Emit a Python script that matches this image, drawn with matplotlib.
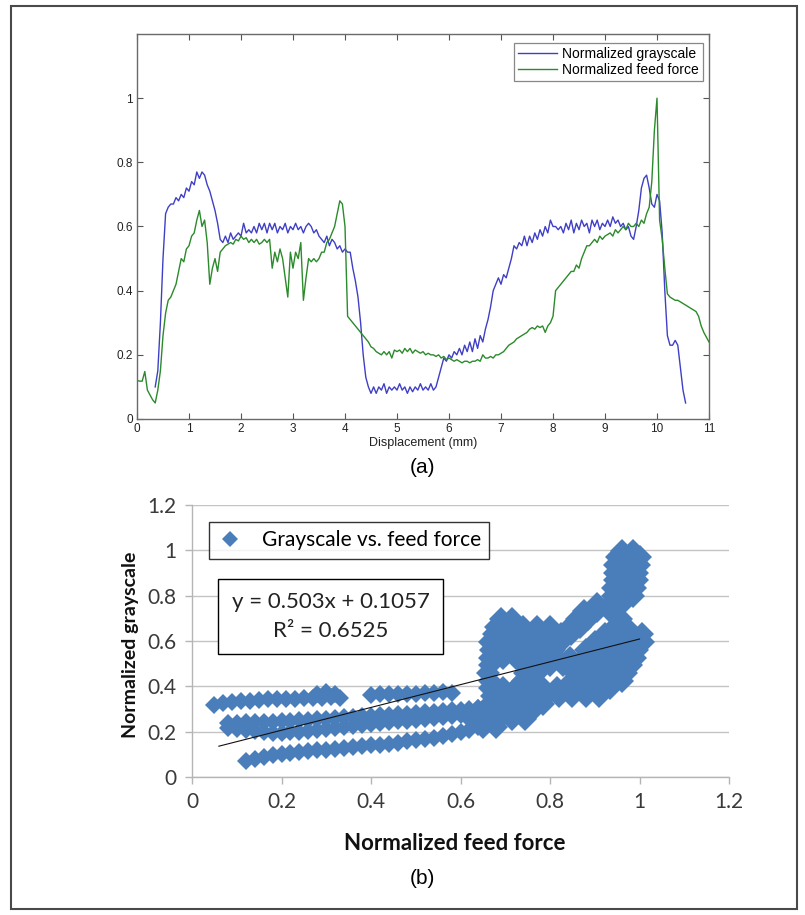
import matplotlib
matplotlib.use("Agg")
import matplotlib.pyplot as plt
import numpy as np
from matplotlib.patches import Rectangle
from matplotlib.lines import Line2D

# ---------------- data: panel (a) ----------------
force_start, force_step = 0.0, 0.05
feed_force = [
    0.12, 0.118, 0.118, 0.148, 0.09, 0.075, 0.06, 0.05, 0.09, 0.15,
    0.26, 0.33, 0.37, 0.38, 0.40, 0.42, 0.46, 0.50, 0.49, 0.53,
    0.54, 0.57, 0.58, 0.62, 0.65, 0.60, 0.62, 0.55, 0.42, 0.47,
    0.50, 0.46, 0.52, 0.53, 0.54, 0.545, 0.55, 0.545, 0.56, 0.555,
    0.57, 0.56, 0.565, 0.55, 0.56, 0.55, 0.56, 0.545, 0.55, 0.56,
    0.55, 0.56, 0.47, 0.52, 0.49, 0.53, 0.50, 0.44, 0.38, 0.52,
    0.47, 0.52, 0.50, 0.55, 0.37, 0.44, 0.50, 0.49, 0.50, 0.49,
    0.50, 0.52, 0.52, 0.55, 0.56, 0.58, 0.60, 0.64, 0.68, 0.67,
    0.60, 0.32, 0.31, 0.30, 0.29, 0.28, 0.27, 0.26, 0.25, 0.24,
    0.225, 0.22, 0.21, 0.205, 0.20, 0.21, 0.20, 0.21, 0.19, 0.215,
    0.21, 0.215, 0.205, 0.22, 0.21, 0.22, 0.205, 0.215, 0.21, 0.205,
    0.21, 0.20, 0.205, 0.20, 0.20, 0.195, 0.20, 0.19, 0.195, 0.185,
    0.19, 0.185, 0.18, 0.185, 0.18, 0.175, 0.18, 0.18, 0.175, 0.18,
    0.18, 0.185, 0.18, 0.20, 0.19, 0.19, 0.195, 0.19, 0.20, 0.20,
    0.205, 0.21, 0.22, 0.23, 0.235, 0.24, 0.25, 0.255, 0.26, 0.265,
    0.27, 0.28, 0.285, 0.28, 0.29, 0.285, 0.29, 0.27, 0.29, 0.30,
    0.32, 0.40, 0.41, 0.42, 0.43, 0.44, 0.45, 0.46, 0.46, 0.48,
    0.47, 0.50, 0.52, 0.54, 0.54, 0.55, 0.56, 0.55, 0.57, 0.56,
    0.57, 0.575, 0.58, 0.57, 0.59, 0.58, 0.59, 0.60, 0.59, 0.61,
    0.60, 0.60, 0.61, 0.60, 0.62, 0.61, 0.64, 0.66, 0.74, 0.90,
    1.00, 0.62, 0.56, 0.47, 0.39, 0.38, 0.375, 0.37, 0.37, 0.365,
    0.36, 0.355, 0.35, 0.345, 0.34, 0.335, 0.32, 0.29, 0.27, 0.255,
    0.24,
]

gray_start, gray_step = 0.35, 0.05
grayscale = [
    0.10, 0.15, 0.30, 0.50, 0.64, 0.66, 0.67, 0.67, 0.69, 0.68,
    0.70, 0.69, 0.72, 0.71, 0.74, 0.73, 0.77, 0.75, 0.77, 0.76,
    0.73, 0.71, 0.68, 0.65, 0.61, 0.56, 0.55, 0.57, 0.55, 0.58,
    0.56, 0.57, 0.58, 0.57, 0.61, 0.58, 0.59, 0.58, 0.60, 0.58,
    0.61, 0.59, 0.61, 0.58, 0.61, 0.59, 0.61, 0.58, 0.60, 0.59,
    0.61, 0.58, 0.60, 0.59, 0.61, 0.59, 0.60, 0.58, 0.60, 0.61,
    0.60, 0.58, 0.59, 0.57, 0.56, 0.55, 0.57, 0.54, 0.56, 0.55,
    0.53, 0.54, 0.52, 0.53, 0.52, 0.52, 0.47, 0.43, 0.38, 0.30,
    0.20, 0.13, 0.10, 0.08, 0.10, 0.08, 0.10, 0.09, 0.11, 0.08,
    0.10, 0.09, 0.10, 0.09, 0.11, 0.09, 0.10, 0.08, 0.10, 0.085,
    0.10, 0.09, 0.11, 0.09, 0.10, 0.09, 0.11, 0.09, 0.10, 0.13,
    0.16, 0.19, 0.18, 0.20, 0.19, 0.21, 0.20, 0.22, 0.20, 0.23,
    0.21, 0.24, 0.21, 0.25, 0.22, 0.26, 0.24, 0.28, 0.31, 0.35,
    0.40, 0.42, 0.44, 0.42, 0.45, 0.44, 0.47, 0.50, 0.54, 0.53,
    0.55, 0.54, 0.57, 0.54, 0.57, 0.55, 0.58, 0.56, 0.59, 0.57,
    0.60, 0.58, 0.62, 0.60, 0.60, 0.59, 0.60, 0.58, 0.61, 0.59,
    0.62, 0.58, 0.61, 0.59, 0.62, 0.60, 0.61, 0.58, 0.62, 0.60,
    0.62, 0.59, 0.61, 0.60, 0.62, 0.60, 0.63, 0.61, 0.62, 0.60,
    0.61, 0.59, 0.60, 0.57, 0.56, 0.60, 0.65, 0.72, 0.75, 0.76,
    0.72, 0.67, 0.66, 0.70, 0.68, 0.58, 0.40, 0.26, 0.23, 0.23,
    0.245, 0.23, 0.16, 0.09, 0.05,
]

disp_force = np.round(force_start + force_step * np.arange(len(feed_force)), 2)
disp_gray = np.round(gray_start + gray_step * np.arange(len(grayscale)), 2)

# ---------------- data: panel (b) ----------------
band_a_x = [0.05, 0.07, 0.09, 0.11, 0.13, 0.15, 0.17, 0.19, 0.21, 0.23, 0.25, 0.27, 0.29, 0.31, 0.33, 0.28, 0.30, 0.32]
band_a_y = [0.318, 0.327, 0.332, 0.335, 0.337, 0.34, 0.342, 0.343, 0.344, 0.346, 0.347, 0.349, 0.35, 0.352, 0.35, 0.368, 0.374, 0.365]

band_b_x = [0.40, 0.42, 0.44, 0.46, 0.48, 0.50, 0.52, 0.54, 0.56, 0.58]
band_b_y = [0.362, 0.365, 0.366, 0.367, 0.368, 0.368, 0.37, 0.372, 0.374, 0.372]

band_c_x = [0.08, 0.10, 0.12, 0.14, 0.16, 0.18, 0.20, 0.22, 0.24, 0.26, 0.28, 0.30, 0.32, 0.34, 0.36,
            0.38, 0.40, 0.42, 0.44, 0.46, 0.48, 0.50, 0.52, 0.54, 0.56, 0.58, 0.60, 0.62, 0.64]
band_c_upper_y = [0.24, 0.24, 0.241, 0.242, 0.243, 0.244, 0.245, 0.247, 0.25, 0.252, 0.255, 0.257, 0.26, 0.263, 0.266,
                  0.268, 0.27, 0.272, 0.275, 0.277, 0.28, 0.282, 0.285, 0.288, 0.291, 0.294, 0.297, 0.30, 0.304]
band_c_lower_y = [0.214, 0.21, 0.206, 0.202, 0.198, 0.195, 0.194, 0.197, 0.2, 0.204, 0.208, 0.212, 0.217, 0.222, 0.226,
                  0.23, 0.234, 0.237, 0.241, 0.245, 0.249, 0.253, 0.257, 0.261, 0.265, 0.269, 0.274, 0.279, 0.287]

band_d_x = [0.12, 0.14, 0.16, 0.18, 0.20, 0.22, 0.24, 0.26, 0.28, 0.30, 0.32, 0.34, 0.36, 0.38,
            0.40, 0.42, 0.44, 0.46, 0.48, 0.50, 0.52, 0.54, 0.56, 0.58, 0.60, 0.62, 0.64]
band_d_y = [0.072, 0.08, 0.088, 0.095, 0.1, 0.106, 0.11, 0.114, 0.118, 0.121, 0.125, 0.128, 0.131, 0.135,
            0.139, 0.143, 0.147, 0.152, 0.157, 0.162, 0.167, 0.173, 0.18, 0.188, 0.197, 0.207, 0.22]

# dense cluster (feed force > 0.6), listed row by row: (grayscale, [feed force values])
cluster_rows = [
    (0.221, [0.65, 0.68]),
    (0.255, [0.625, 0.655, 0.685, 0.715, 0.745]),
    (0.289, [0.64, 0.67, 0.70, 0.73, 0.76]),
    (0.323, [0.665, 0.695, 0.725, 0.755, 0.785]),
    (0.357, [0.67, 0.70, 0.73, 0.76, 0.79, 0.82, 0.85, 0.88, 0.91]),
    (0.391, [0.665, 0.695, 0.725, 0.755, 0.785, 0.815, 0.845, 0.875, 0.905, 0.935]),
    (0.425, [0.665, 0.74, 0.765, 0.85, 0.875, 0.905, 0.935, 0.96]),
    (0.459, [0.662, 0.745, 0.77, 0.855, 0.88, 0.91, 0.94, 0.97]),
    (0.493, [0.665, 0.745, 0.77, 0.80, 0.83, 0.86, 0.89, 0.92, 0.95, 0.98]),
    (0.527, [0.665, 0.695, 0.725, 0.755, 0.785, 0.815, 0.845, 0.875, 0.905, 0.935, 0.965, 0.99]),
    (0.561, [0.668, 0.70, 0.73, 0.76, 0.79, 0.81, 0.88, 0.905, 0.935, 0.965, 0.995]),
    (0.595, [0.665, 0.695, 0.725, 0.755, 0.785, 0.825, 0.90, 0.925, 0.955, 0.985, 1.008]),
    (0.629, [0.675, 0.705, 0.735, 0.765, 0.795, 0.825, 0.848, 0.922, 0.948, 0.978, 1.005]),
    (0.663, [0.68, 0.71, 0.74, 0.77, 0.80, 0.845, 0.868, 0.945, 0.97]),
    (0.697, [0.69, 0.715, 0.86, 0.885, 0.958]),
    (0.731, [0.875, 0.905, 0.935]),
    (0.765, [0.905, 0.935, 0.96]),
    (0.799, [0.94, 0.965, 0.985]),
    (0.833, [0.94, 0.965, 0.99]),
    (0.867, [0.945, 0.97, 0.995]),
    (0.901, [0.945, 0.97, 0.995]),
    (0.935, [0.945, 0.97, 0.998]),
    (0.969, [0.95, 0.975, 1.0]),
    (0.995, [0.96, 0.985]),
]

trend_slope = 0.503
trend_intercept = 0.1057
trend_x = [0.06, 1.0]

# ---------------- figure ----------------
W, H = 805, 915
fig = plt.figure(figsize=(W / 100, H / 100), dpi=100)

def fx(px):
    return px / W

def fy(py):
    return 1 - py / H

# outer frame
fig.patches.append(Rectangle((fx(11), fy(909)), (797 - 11) / W, (909 - 6) / H,
                             transform=fig.transFigure, fill=False,
                             edgecolor="#4a4a4a", lw=1.5))

# ---- panel (a)
arial = "Liberation Sans"
ax1 = fig.add_axes([fx(137), fy(419), (709 - 137) / W, (419 - 34) / H])
ax1.plot(disp_gray, grayscale, color="#3f3fc6", lw=1.0, label="Normalized grayscale")
ax1.plot(disp_force, feed_force, color="#2b8a2b", lw=1.0, label="Normalized feed force")
ax1.set_xlim(0, 11)
ax1.set_ylim(0, 1.2)
ax1.set_xticks(range(12))
ax1.set_xticklabels([str(i) for i in range(12)], fontfamily=arial, fontsize=8.5)
ax1.set_yticks([0, 0.2, 0.4, 0.6, 0.8, 1.0])
ax1.set_yticklabels(["0", "0.2", "0.4", "0.6", "0.8", "1"], fontfamily=arial, fontsize=8.5)
ax1.tick_params(direction="in", top=True, right=True, length=4, width=0.8,
                color="#555555", labelcolor="#222222", pad=3)
for s in ax1.spines.values():
    s.set_color("#6a6a6a")
    s.set_linewidth(1.0)
ax1.set_xlabel("Displacement (mm)", fontfamily=arial, fontsize=9, labelpad=1, color="#222222")
leg1 = ax1.legend(loc="upper right", bbox_to_anchor=(0.99, 0.977), borderaxespad=0,
                  prop={"family": arial, "size": 10}, frameon=True, fancybox=False,
                  edgecolor="#6a6a6a", handlelength=2.8, handletextpad=0.4,
                  borderpad=0.3, labelspacing=0.15)
leg1.get_frame().set_linewidth(0.9)

fig.text(fx(422), fy(468), "(a)", ha="center", va="center", fontsize=15, fontfamily=arial)

# ---- panel (b)
lato = "Lato"
blue = "#4A7EBB"
ax2 = fig.add_axes([fx(192), fy(777), (729 - 192) / W, (777 - 505) / H])
ax2.set_xlim(0, 1.2)
ax2.set_ylim(0, 1.2)
ticks = [0, 0.2, 0.4, 0.6, 0.8, 1.0, 1.2]
labels = ["0", "0.2", "0.4", "0.6", "0.8", "1", "1.2"]
ax2.set_xticks(ticks)
ax2.set_xticklabels(labels, fontfamily=lato, fontsize=15)
ax2.set_yticks(ticks)
ax2.set_yticklabels(labels, fontfamily=lato, fontsize=15)
ax2.tick_params(direction="out", length=5, width=1, color="#b5b5b5", labelcolor="#3a3a3a", pad=6)
ax2.yaxis.grid(True, color="#c4c4c4", lw=1)
ax2.set_axisbelow(True)
for side in ("top", "right"):
    ax2.spines[side].set_visible(False)
for side in ("left", "bottom"):
    ax2.spines[side].set_color("#b5b5b5")
    ax2.spines[side].set_linewidth(1)

ms_band = 9.5
ms_cluster = 12.5
ax2.plot(band_a_x, band_a_y, ls="none", marker="D", ms=ms_band, color=blue, mew=0)
ax2.plot(band_b_x, band_b_y, ls="none", marker="D", ms=ms_band, color=blue, mew=0)
ax2.plot(band_c_x, band_c_upper_y, ls="none", marker="D", ms=ms_band, color=blue, mew=0)
ax2.plot(band_c_x, band_c_lower_y, ls="none", marker="D", ms=ms_band, color=blue, mew=0)
ax2.plot(band_d_x, band_d_y, ls="none", marker="D", ms=ms_band, color=blue, mew=0)
cl_x = [x for y, xs in cluster_rows for x in xs]
cl_y = [y for y, xs in cluster_rows for x in xs]
ax2.plot(cl_x, cl_y, ls="none", marker="D", ms=ms_cluster, color=blue, mew=0)

trend_y = [trend_slope * x + trend_intercept for x in trend_x]
ax2.plot(trend_x, trend_y, color="#111111", lw=0.8)

handle = Line2D([], [], ls="none", marker="D", ms=8, color=blue, mew=0)
leg2 = ax2.legend([handle], ["Grayscale vs. feed force"], loc="upper left",
                  bbox_to_anchor=(0.0325, 0.937), borderaxespad=0,
                  prop={"family": lato, "size": 15}, frameon=True, fancybox=False,
                  edgecolor="black", handlelength=1.2, handletextpad=0.9, borderpad=0.4)
leg2.get_frame().set_linewidth(1.0)

ax2.text(0.31, 0.708, "y = 0.503x + 0.1057\nR\u00b2 = 0.6525", ha="center", va="center",
         fontfamily=lato, fontsize=16, color="#222222", linespacing=1.55,
         bbox=dict(boxstyle="square,pad=0.6", facecolor="white", edgecolor="black", lw=1.0))

fig.text(fx(455), fy(843), "Normalized feed force", ha="center", va="center",
         fontfamily=lato, fontsize=16, fontweight="bold", color="#111111")
fig.text(fx(130), fy(645), "Normalized grayscale", ha="center", va="center", rotation=90,
         fontfamily=lato, fontsize=14, fontweight="bold", color="#111111")
fig.text(fx(422), fy(878), "(b)", ha="center", va="center", fontsize=15, fontfamily=arial)

fig.savefig("out.png", dpi=100)
